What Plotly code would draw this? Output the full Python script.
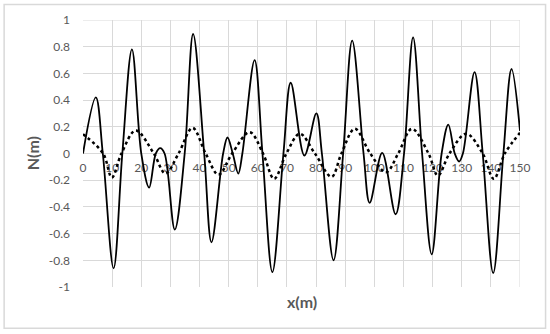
import plotly.graph_objects as go

# solid curve, read at extrema and zero crossings
x_solid = [0, 4.4, 6.8, 10.5, 13.5, 16.8, 20.0, 22.7, 25.0, 26.5, 28.0, 31.5, 34.9,
           37.8, 41.6, 44.1, 48.1, 49.6, 51.4, 53.3, 54.7, 58.9, 61.6, 65.0, 68.8,
           71.3, 76.0, 80.1, 82.0, 86.0, 89.3, 92.4, 96.3, 98.4, 102.7, 107.3, 110.2,
           113.3, 116.4, 119.7, 123.1, 125.4, 127.6, 129.1, 130.4, 134.4, 137.2,
           140.8, 144.3, 147.1, 150]
n_solid = [0, 0.42, 0, -0.86, 0, 0.78, 0, -0.255, 0, 0.04, 0, -0.57, 0,
           0.895, 0, -0.665, 0, 0.12, 0, -0.15, 0, 0.70, 0, -0.888, 0,
           0.53, -0.015, 0.30, 0, -0.80, 0, 0.845, 0, -0.37, 0.005, -0.455, 0,
           0.87, 0, -0.755, 0, 0.217, 0, -0.06, 0, 0.61, 0,
           -0.895, 0, 0.633, 0.17]

# dotted curve
x_dot = [0, 6.9, 9.9, 13.2, 18.1, 24.3, 28.3, 32.8, 37.6, 42.1, 46.5, 51.2, 57.2,
         61.8, 65.6, 69.8, 74.4, 79.6, 85.3, 88.7, 93.3, 98.6, 104.0, 108.2, 112.9,
         118.6, 121.8, 125.8, 131.5, 137.2, 141.0, 144.8, 150]
n_dot = [0.145, 0, -0.18, 0, 0.172, 0, -0.15, 0, 0.192, 0, -0.158, 0, 0.16,
         0, -0.19, 0, 0.148, 0, -0.175, 0, 0.185, 0, -0.14, 0, 0.185,
         0, -0.165, 0, 0.148, 0, -0.19, 0, 0.155]

y_ticks = [-1, -0.8, -0.6, -0.4, -0.2, 0, 0.2, 0.4, 0.6, 0.8, 1]
y_labels = ["-1", "-0.8", "-0.6", "-0.4", "-0.2", "0", "0.2", "0.4", "0.6", "0.8", "1"]
x_ticks = list(range(0, 151, 10))

grey = "#595959"
grid = "#d9d9d9"
font = "Lato"

fig = go.Figure()
fig.add_trace(go.Scatter(x=x_dot, y=n_dot, mode="lines",
                         line=dict(color="black", width=2.5, dash="dot", shape="spline", smoothing=1.0),
                         showlegend=False))
fig.add_trace(go.Scatter(x=x_solid, y=n_solid, mode="lines",
                         line=dict(color="black", width=1.8, shape="spline", smoothing=1.0),
                         showlegend=False))

fig.update_layout(
    width=550, height=334,
    margin=dict(l=83, r=30, t=20, b=47),
    paper_bgcolor="white", plot_bgcolor="white",
    font=dict(family=font, color=grey, size=12),
    xaxis=dict(range=[0, 150], tickvals=x_ticks, showgrid=True, gridcolor=grid,
               zeroline=False, showline=False, anchor="free", position=0.5,
               ticks="", ticklabelstandoff=5, layer="below traces",
               tickfont=dict(family=font, size=12, color=grey)),
    yaxis=dict(range=[-1, 1], tickvals=y_ticks, ticktext=y_labels, showgrid=True,
               gridcolor=grid, zeroline=True, zerolinecolor=grid, zerolinewidth=1,
               showline=False, ticks="", ticklabelstandoff=12,
               tickfont=dict(family=font, size=12, color=grey)),
    shapes=[
        dict(type="rect", xref="paper", yref="paper", x0=-0.1805, x1=1.0585, y0=-0.1545, y1=1.0585,
             line=dict(color=grid, width=1.5), layer="above"),
        dict(type="line", xref="x", yref="paper", x0=150, x1=150, y0=0, y1=1,
             line=dict(color=grid, width=1), layer="below"),
        dict(type="line", xref="paper", yref="y", x0=0, x1=1, y0=1, y1=1,
             line=dict(color=grid, width=1), layer="below"),
    ],
    annotations=[
        dict(text="<b>x(m)</b>", xref="paper", yref="paper", x=0.5, y=-0.056,
             showarrow=False, xanchor="center", yanchor="middle",
             font=dict(family=font, size=16, color=grey)),
        dict(text="<b>N(m)</b>", xref="paper", yref="paper", x=-0.115, y=0.5,
             showarrow=False, xanchor="center", yanchor="middle", textangle=-90,
             font=dict(family=font, size=16, color=grey)),
    ],
)

fig.write_html("out.html", config={"displayModeBar": False},
               post_script="document.body.style.margin='0px';")
